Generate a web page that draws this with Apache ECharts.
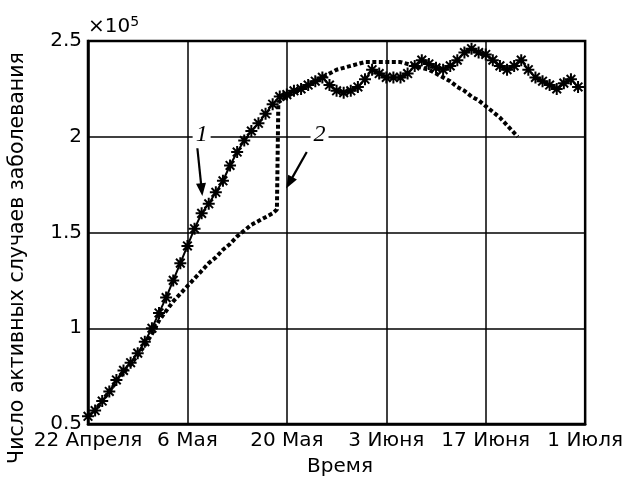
<!DOCTYPE html>
<html lang="ru">
<head>
<meta charset="UTF-8">
<title>Число активных случаев заболевания</title>
<script src="https://cdn.jsdelivr.net/npm/echarts@6/dist/echarts.min.js"></script>
<style>
    html, body { margin: 0; padding: 0; background: #fff; }
    #chart { width: 626px; height: 484px; }
</style>
</head>
<body>
<div id="chart"></div>
<script>
    // подписи оси X (шаг 14 дней от 22 апреля)
    var xTickLabels = ['22 Апреля', '6 Мая', '20 Мая', '3 Июня', '17 Июня', '1 Июля'];

    // кривая 1 (звёздочки): день от 22 апреля, значение x10^5
    var days1 = [0, 1, 2, 3, 4, 5, 6, 7, 8, 9, 10, 11, 12, 13, 14, 15, 16, 17, 18, 19,
        20, 21, 22, 23, 24, 25, 26, 27, 28, 29, 30, 31, 32, 33, 34, 35, 36, 37, 38, 39,
        40, 41, 42, 43, 44, 45, 46, 47, 48, 49, 50, 51, 52, 53, 54, 55, 56, 57, 58, 59,
        60, 61, 62, 63, 64, 65, 66, 67, 68, 69];
    var cases1 = [0.54, 0.57, 0.62, 0.67, 0.73, 0.78, 0.82, 0.87, 0.93, 1.00,
        1.08, 1.16, 1.25, 1.34, 1.43, 1.52, 1.60, 1.65, 1.71, 1.77,
        1.85, 1.92, 1.98, 2.03, 2.07, 2.12, 2.17, 2.21, 2.22, 2.24,
        2.25, 2.27, 2.29, 2.31, 2.27, 2.24, 2.23, 2.24, 2.26, 2.30,
        2.35, 2.33, 2.31, 2.31, 2.31, 2.33, 2.37, 2.40, 2.38, 2.36,
        2.35, 2.37, 2.40, 2.44, 2.46, 2.44, 2.43, 2.40, 2.37, 2.35,
        2.37, 2.40, 2.35, 2.31, 2.29, 2.27, 2.25, 2.28, 2.30, 2.26];

    // кривая 2 (пунктир)
    var days2 = [0, 1, 2, 3, 4, 5, 6, 7, 8, 9, 10, 11, 12, 13, 14, 15, 16, 17, 18, 19,
        20, 21, 22, 23, 24, 25, 26, 26.6, 26.8, 27, 28, 29, 30, 31, 32, 33, 34, 35, 36, 37,
        38, 39, 40, 41, 42, 43, 44, 45, 46, 47, 48, 49, 50, 51, 52, 53, 54, 55, 56, 57,
        58, 59, 60, 60.5];
    var cases2 = [0.54, 0.57, 0.62, 0.67, 0.72, 0.77, 0.81, 0.86, 0.91, 0.97,
        1.04, 1.09, 1.14, 1.18, 1.22, 1.26, 1.30, 1.34, 1.37, 1.41,
        1.44, 1.48, 1.51, 1.54, 1.56, 1.58, 1.60, 1.62, 2.18, 2.19,
        2.21, 2.23, 2.25, 2.27, 2.29, 2.31, 2.33, 2.35, 2.36, 2.37,
        2.38, 2.39, 2.39, 2.39, 2.39, 2.39, 2.39, 2.38, 2.37, 2.36,
        2.35, 2.33, 2.31, 2.29, 2.26, 2.24, 2.21, 2.19, 2.16, 2.13,
        2.10, 2.06, 2.02, 2.00];

    function pairs(xs, ys) {
        var out = [];
        for (var i = 0; i < xs.length; i++) out.push([xs[i], ys[i]]);
        return out;
    }

    var FONT = 'DejaVu Sans';
    var asterisk = 'path://M0,-5L0,5M-5,0L5,0M-3.6,-3.6L3.6,3.6M-3.6,3.6L3.6,-3.6';

    var chart = echarts.init(document.getElementById('chart'));

    var option = {
        animation: false,
        backgroundColor: '#fff',
        grid: {left: 88, right: 38, top: 41, bottom: 60, show: true,
            borderColor: '#000', borderWidth: 2.5, backgroundColor: 'transparent'},
        xAxis: {
            type: 'value', min: 0, max: 70, interval: 14,
            axisLine: {show: true, lineStyle: {color: '#000', width: 2.5}},
            axisTick: {show: false},
            splitLine: {show: true, lineStyle: {color: '#000', width: 1.5}},
            axisLabel: {
                color: '#000', fontFamily: FONT, fontSize: 20, margin: 7,
                formatter: function (v) { return xTickLabels[Math.round(v / 14)]; }
            }
        },
        yAxis: {
            type: 'value', min: 0.5, max: 2.5, interval: 0.5,
            axisLine: {show: true, lineStyle: {color: '#000', width: 2.5}},
            axisTick: {show: false},
            splitLine: {show: true, lineStyle: {color: '#000', width: 1.5}},
            axisLabel: {
                color: '#000', fontFamily: FONT, fontSize: 20, margin: 6,
                formatter: function (v) { return String(v); }
            }
        },
        series: [
            {
                name: '2', type: 'line', data: pairs(days2, cases2),
                showSymbol: false, z: 2,
                lineStyle: {color: '#000', width: 4, type: [4, 2.5], cap: 'butt'}
            },
            {
                name: '1', type: 'line', data: pairs(days1, cases1),
                symbol: asterisk, symbolSize: 12, showAllSymbol: true, z: 3,
                itemStyle: {color: '#000', borderColor: '#000', borderWidth: 2},
                lineStyle: {color: '#000', width: 2}
            }
        ]
    };
    chart.setOption(option);

    function arrow(from, to) {
        var p0 = chart.convertToPixel({gridIndex: 0}, from);
        var p1 = chart.convertToPixel({gridIndex: 0}, to);
        var dx = p1[0] - p0[0], dy = p1[1] - p0[1];
        var len = Math.sqrt(dx * dx + dy * dy), ux = dx / len, uy = dy / len;
        var hl = 13, hw = 5;
        var bx = p1[0] - ux * hl, by = p1[1] - uy * hl;
        return [
            {type: 'line', z: 10, shape: {x1: p0[0], y1: p0[1], x2: bx + ux * 2, y2: by + uy * 2},
                style: {stroke: '#000', lineWidth: 2.2}},
            {type: 'polygon', z: 10, shape: {points: [[p1[0], p1[1]], [bx - uy * hw, by + ux * hw], [bx + uy * hw, by - ux * hw]]},
                style: {fill: '#000'}}
        ];
    }

    function label(text, at) {
        var p = chart.convertToPixel({gridIndex: 0}, at);
        return {type: 'text', z: 10, x: p[0], y: p[1],
            style: {text: text, fill: '#000', font: 'italic 24px "Liberation Serif"',
                align: 'center', verticalAlign: 'middle',
                backgroundColor: '#fff', padding: [0, 3]}};
    }

    var graphics = [];
    graphics = graphics.concat(arrow([15.4, 1.94], [16.1, 1.69]));
    graphics = graphics.concat(arrow([30.8, 1.92], [27.9, 1.73]));
    graphics.push(label('1', [16.0, 2.01]));
    graphics.push(label('2', [32.6, 2.01]));

    // подписи осей и множитель
    graphics.push({type: 'text', x: 18, y: 258, rotation: Math.PI / 2,
        style: {text: 'Число активных случаев заболевания', fill: '#000',
            font: '20.5px "' + FONT + '"', align: 'center', verticalAlign: 'middle'}});
    graphics.push({type: 'text', x: 340, y: 467,
        style: {text: 'Время', fill: '#000', font: '20px "' + FONT + '"',
            align: 'center', verticalAlign: 'middle'}});
    graphics.push({type: 'text', x: 88, y: 39,
        style: {text: '×10{sup|5}', fill: '#000', font: '20px "' + FONT + '"',
            align: 'left', verticalAlign: 'bottom',
            rich: {sup: {fontSize: 14, fontFamily: FONT, verticalAlign: 'top', padding: [0, 0, 10, 0]}}}});

    chart.setOption({graphic: graphics});
</script>
</body>
</html>
